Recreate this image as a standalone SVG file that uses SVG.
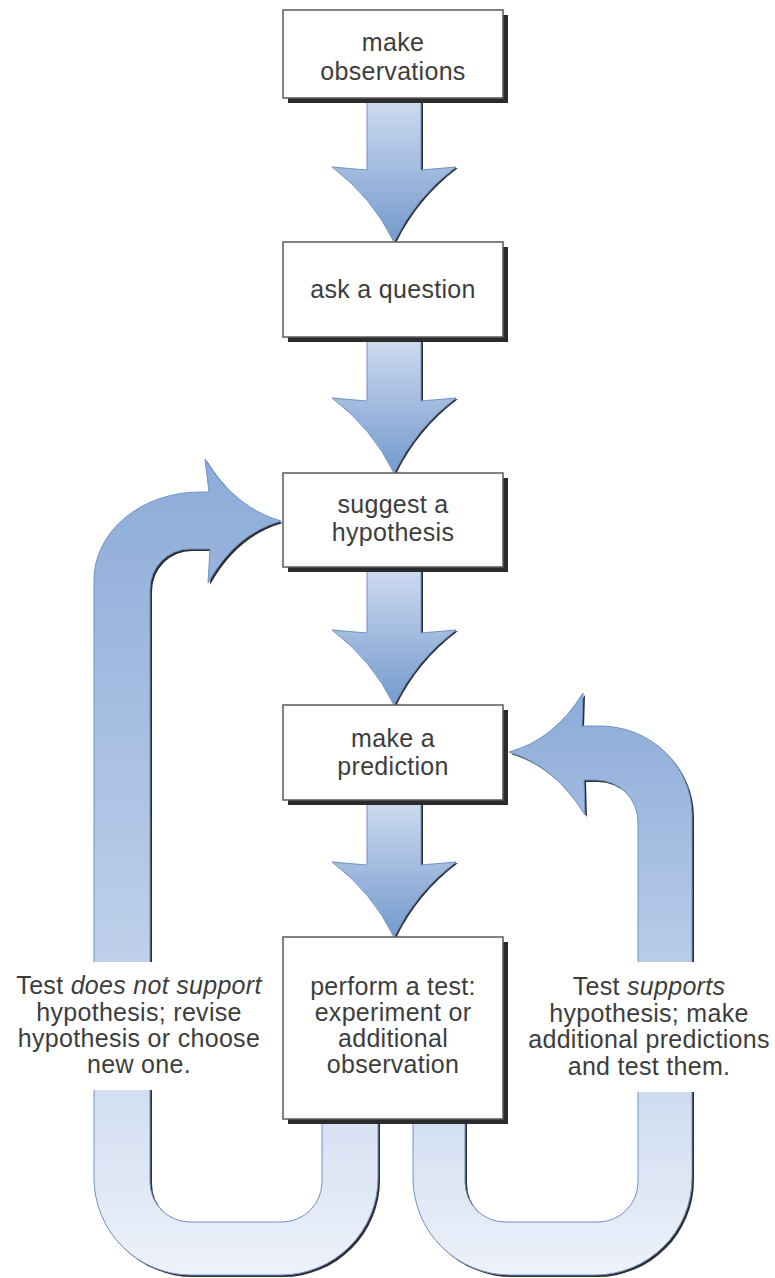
<svg xmlns="http://www.w3.org/2000/svg" width="775" height="1278" viewBox="0 0 775 1278">
  <style>
    .box { fill: #ffffff; stroke: #5a5a5a; stroke-width: 1.5; }
    .shadow { fill: #2b2b2b; }
    .lbl { font-family: "Liberation Sans", Arial, sans-serif; font-size: 25px; letter-spacing: 0.3px; fill: #3d3d3d; text-anchor: middle; }
    .arrowfill { stroke: #6e92c6; stroke-width: 1; }
    .ashadow { fill: #2e2e2e; filter: url(#soft); }
  </style>
  <defs>
    <filter id="soft" x="-5%" y="-5%" width="110%" height="110%">
      <feGaussianBlur stdDeviation="0.6"/>
    </filter>
    <linearGradient id="downGrad" x1="0" y1="0" x2="0" y2="1">
      <stop offset="0" stop-color="#d0ddf1"/>
      <stop offset="1" stop-color="#7499cd"/>
    </linearGradient>
    <linearGradient id="leftGrad" gradientUnits="userSpaceOnUse" x1="0" y1="455" x2="0" y2="1278">
      <stop offset="0" stop-color="#8cabd8"/>
      <stop offset="0.6" stop-color="#bdcfea"/>
      <stop offset="1" stop-color="#eef2fa"/>
    </linearGradient>
    <linearGradient id="rightGrad" gradientUnits="userSpaceOnUse" x1="0" y1="690" x2="0" y2="1278">
      <stop offset="0" stop-color="#8cabd8"/>
      <stop offset="0.5" stop-color="#bccfea"/>
      <stop offset="1" stop-color="#eef2fa"/>
    </linearGradient>
    <path id="leftLoop" d="M281,521 Q235,534 208,583 L210,549 L190,549 A40,40 0 0 0 150,589 L150,1182 A40,40 0 0 0 190,1222 L282,1222 A40,40 0 0 0 322,1182 L322,1112 L378,1112 L378,1178 A97,97 0 0 1 281,1275 L191,1275 A97,97 0 0 1 94,1178 L94,580 A106,88 0 0 1 200,492 L209,492 L205,459 Q235,508 281,521 Z"/>
    <path id="rightLoop" d="M509,752 Q554,740 583,693 L582,726 L600,726 A92,89 0 0 1 692,815 L692,1178 A97,97 0 0 1 595,1275 L510,1275 A97,97 0 0 1 413,1178 L413,1112 L465,1112 L465,1182 A40,40 0 0 0 505,1222 L598,1222 A40,40 0 0 0 638,1182 L638,822 A42,42 0 0 0 596,780 L584,780 L585,815 Q555,766 509,752 Z"/>
  </defs>

  <g id="connectors">
    <g id="loop-not-supported">
      <use href="#leftLoop" class="ashadow" transform="translate(2,2)"/>
      <use href="#leftLoop" class="arrowfill" fill="url(#leftGrad)"/>
      <rect x="88" y="962" width="70" height="128" fill="#ffffff"/>
    </g>
    <g id="loop-supported">
      <use href="#rightLoop" class="ashadow" transform="translate(2,2)"/>
      <use href="#rightLoop" class="arrowfill" fill="url(#rightGrad)"/>
      <rect x="630" y="962" width="70" height="130" fill="#ffffff"/>
    </g>
    <g id="arrow1">
      <path class="ashadow" transform="translate(2,1)" d="M367,96 L421,96 L421,170 L456,167 Q416,197 394,242 Q372,197 332,167 L367,170 Z"/>
      <path class="arrowfill" fill="url(#downGrad)" d="M367,96 L421,96 L421,170 L456,167 Q416,197 394,242 Q372,197 332,167 L367,170 Z"/>
    </g>
    <g id="arrow2">
      <path class="ashadow" transform="translate(2,1)" d="M367,335 L421,335 L421,401 L456,398 Q416,428 394,473 Q372,428 332,398 L367,401 Z"/>
      <path class="arrowfill" fill="url(#downGrad)" d="M367,335 L421,335 L421,401 L456,398 Q416,428 394,473 Q372,428 332,398 L367,401 Z"/>
    </g>
    <g id="arrow3">
      <path class="ashadow" transform="translate(2,1)" d="M367,565 L421,565 L421,633 L456,630 Q416,660 394,705 Q372,660 332,630 L367,633 Z"/>
      <path class="arrowfill" fill="url(#downGrad)" d="M367,565 L421,565 L421,633 L456,630 Q416,660 394,705 Q372,660 332,630 L367,633 Z"/>
    </g>
    <g id="arrow4">
      <path class="ashadow" transform="translate(2,1)" d="M367,798 L421,798 L421,865 L456,862 Q416,892 394,937 Q372,892 332,862 L367,865 Z"/>
      <path class="arrowfill" fill="url(#downGrad)" d="M367,798 L421,798 L421,865 L456,862 Q416,892 394,937 Q372,892 332,862 L367,865 Z"/>
    </g>
  </g>

  <g id="node-observations">
    <rect class="shadow" x="288" y="15" width="220" height="88"/>
    <rect class="box" x="283" y="10" width="220" height="88"/>
    <text class="lbl" x="393" y="51">make</text>
    <text class="lbl" x="393" y="80">observations</text>
  </g>

  <g id="node-question">
    <rect class="shadow" x="288" y="247" width="220" height="95"/>
    <rect class="box" x="283" y="242" width="220" height="95"/>
    <text class="lbl" x="393" y="298">ask a question</text>
  </g>

  <g id="node-hypothesis">
    <rect class="shadow" x="288" y="478" width="220" height="94"/>
    <rect class="box" x="283" y="473" width="220" height="94"/>
    <text class="lbl" x="393" y="513">suggest a</text>
    <text class="lbl" x="393" y="541">hypothesis</text>
  </g>

  <g id="node-prediction">
    <rect class="shadow" x="288" y="710" width="220" height="95"/>
    <rect class="box" x="283" y="705" width="220" height="95"/>
    <text class="lbl" x="393" y="747">make a</text>
    <text class="lbl" x="393" y="775">prediction</text>
  </g>

  <g id="node-test">
    <rect class="shadow" x="288" y="942" width="220" height="182"/>
    <rect class="box" x="283" y="937" width="220" height="182"/>
    <text class="lbl" x="393" y="995">perform a test:</text>
    <text class="lbl" x="393" y="1021">experiment or</text>
    <text class="lbl" x="393" y="1047">additional</text>
    <text class="lbl" x="393" y="1073">observation</text>
  </g>

  <g id="label-not-supported">
    <text class="lbl" x="139" y="994">Test <tspan font-style="italic">does not support</tspan></text>
    <text class="lbl" x="139" y="1021">hypothesis; revise</text>
    <text class="lbl" x="139" y="1047">hypothesis or choose</text>
    <text class="lbl" x="139" y="1073">new one.</text>
  </g>

  <g id="label-supported">
    <text class="lbl" x="649" y="995">Test <tspan font-style="italic">supports</tspan></text>
    <text class="lbl" x="649" y="1022">hypothesis; make</text>
    <text class="lbl" x="649" y="1048">additional predictions</text>
    <text class="lbl" x="649" y="1075">and test them.</text>
  </g>
</svg>
